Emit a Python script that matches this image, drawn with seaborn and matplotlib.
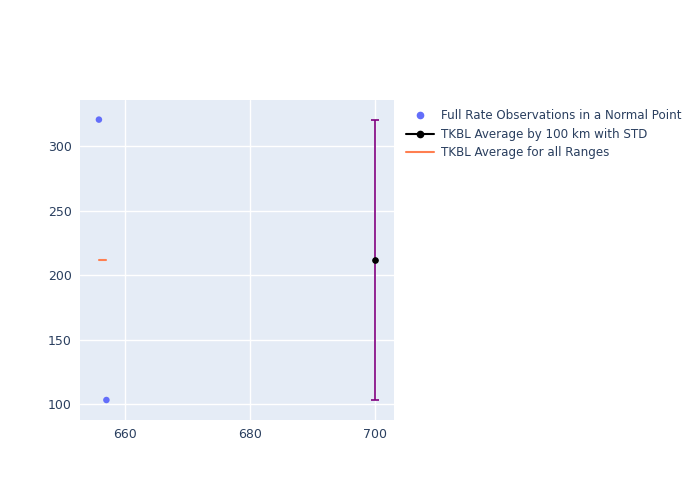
import matplotlib
matplotlib.use("Agg")
import matplotlib.pyplot as plt
import seaborn as sns
import pandas as pd
from matplotlib.lines import Line2D

obs_x = [655.83, 657.03]
obs_y = [320.5, 103.1]
avg_x = [700.0]
avg_y = [211.8]
avg_std = [108.7]
all_x = [655.83, 657.03]
all_y = [211.8, 211.8]
xticks = [660, 680, 700]
yticks = [100, 150, 200, 250, 300]

sns.set_theme(style="darkgrid", rc={
    "axes.facecolor": "#E5ECF6", "grid.color": "white", "grid.linewidth": 1.0,
    "axes.edgecolor": "#E5ECF6", "figure.facecolor": "white",
})
plt.rcParams['font.family'] = ['DejaVu Sans']

fig = plt.figure(figsize=(7, 5), dpi=100)
ax = fig.add_axes([80/700, 80/500, 314/700, 320/500])

txt = "#2a3f5f"
sns.scatterplot(x=obs_x, y=obs_y, ax=ax, color="#636efa", s=22, edgecolor="none", zorder=3)
df_avg = pd.DataFrame({"x": avg_x, "y": avg_y, "s": avg_std})
ax.errorbar(df_avg["x"], df_avg["y"], yerr=df_avg["s"], fmt="none", ecolor="#800080",
            elinewidth=1.2, capsize=3, capthick=1.2, zorder=2)
sns.lineplot(data=df_avg, x="x", y="y", ax=ax, color="black", marker="o", markersize=4,
             markeredgecolor="black", zorder=4)
sns.lineplot(x=all_x, y=all_y, ax=ax, color="#ff7f50", linewidth=1.5, zorder=3)

ax.set_xlim(652.8, 703.1)
ax.set_ylim(87.6, 335.7)
ax.set_xticks(xticks)
ax.set_yticks(yticks)
ax.set_xlabel("")
ax.set_ylabel("")
ax.tick_params(colors=txt, labelsize=9, length=0, pad=6)
for s in ax.spines.values():
    s.set_visible(False)

handles = [
    Line2D([], [], linestyle="none", marker="o", color="#636efa", markersize=4.5),
    Line2D([], [], color="black", marker="o", markersize=4.5, linewidth=1.5),
    Line2D([], [], color="#ff7f50", linewidth=1.5),
]
labels = ["Full Rate Observations in a Normal Point", "TKBL Average by 100 km with STD",
          "TKBL Average for all Ranges"]
leg = fig.legend(handles, labels, loc="upper left", bbox_to_anchor=(406/700, 1 - 109/500),
                 frameon=False, fontsize=8.6, labelcolor=txt, handlelength=2.35,
                 handletextpad=0.55, labelspacing=0.48, borderaxespad=0, borderpad=0)

fig.savefig("out.png", dpi=100)
